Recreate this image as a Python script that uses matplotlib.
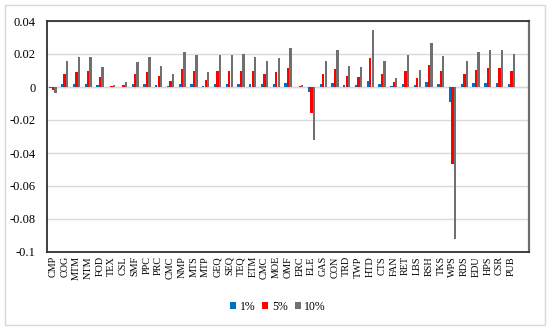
import matplotlib
matplotlib.use("Agg")
import matplotlib.pyplot as plt
from matplotlib.patches import Rectangle
import numpy as np

categories = ["CMP", "COG", "MTM", "NTM", "FOD", "TEX", "CSL", "SMF", "PPC", "PRC",
              "CMC", "NMP", "MTS", "MTP", "GEQ", "SEQ", "TEQ", "ETM", "CMC", "MOE",
              "OMF", "ERC", "ELE", "GAS", "CON", "TRD", "TWP", "HTD", "CTS", "FAN",
              "RET", "LBS", "RSH", "TKS", "WPS", "RDS", "EDU", "HPS", "CSR", "PUB"]

v1 = [-0.0004, 0.0016, 0.0020, 0.0020, 0.0014, 0.0002, 0.0003, 0.0016, 0.0020, 0.0014,
      0.0008, 0.0020, 0.0020, 0.0008, 0.0020, 0.0020, 0.0020, 0.0020, 0.0016, 0.0018,
      0.0026, 0.0002, -0.0033, 0.0016, 0.0024, 0.0014, 0.0014, 0.0036, 0.0016, 0.0008,
      0.0020, 0.0012, 0.0028, 0.0020, -0.0092, 0.0016, 0.0022, 0.0024, 0.0024, 0.0020]

v5 = [-0.0017, 0.0080, 0.0092, 0.0094, 0.0062, 0.0008, 0.0014, 0.0076, 0.0092, 0.0066,
      0.0038, 0.0108, 0.0098, 0.0044, 0.0098, 0.0098, 0.0100, 0.0094, 0.0080, 0.0090,
      0.0116, 0.0008, -0.0160, 0.0080, 0.0112, 0.0066, 0.0062, 0.0174, 0.0080, 0.0030,
      0.0098, 0.0054, 0.0134, 0.0094, -0.0465, 0.0080, 0.0106, 0.0114, 0.0114, 0.0100]

v10 = [-0.0036, 0.0158, 0.0182, 0.0184, 0.0120, 0.0014, 0.0028, 0.0152, 0.0182, 0.0130,
       0.0076, 0.0214, 0.0192, 0.0092, 0.0194, 0.0194, 0.0200, 0.0184, 0.0158, 0.0178,
       0.0234, 0.0012, -0.0324, 0.0160, 0.0222, 0.0130, 0.0124, 0.0346, 0.0158, 0.0056,
       0.0192, 0.0104, 0.0266, 0.0186, -0.0920, 0.0158, 0.0212, 0.0224, 0.0226, 0.0198]

series_labels = ["1%", "5%", "10%"]
yticks = [0.04, 0.02, 0, -0.02, -0.04, -0.06, -0.08, -0.1]
ytick_labels = ["0.04", "0.02", "0", "-0.02", "-0.04", "-0.06", "-0.08", "-0.1"]

colors = ["#0070C0", "#FF0000", "#707070"]

plt.rcParams['font.family'] = ['Liberation Serif', 'DejaVu Serif']

fig = plt.figure(figsize=(5.5, 3.28), dpi=100)
# outer light border
fig.patches.append(Rectangle((5/550, 3/328), 540/550, 320/328, transform=fig.transFigure,
                             fill=False, edgecolor="#D9D9D9", linewidth=1.0))

ax = fig.add_axes([47/550, 1 - 252/328, 482/550, 231/328])
x = np.arange(len(categories))
w = 0.2
for i, (vals, lab, c) in enumerate(zip([v1, v5, v10], series_labels, colors)):
    ax.bar(x + (i - 1) * 0.21, vals, width=w, color=c, label=lab, zorder=3)

ax.set_xlim(-0.5, len(categories) + 0.5)
ax.set_ylim(-0.1, 0.04)
ax.set_yticks(yticks)
ax.set_yticklabels(ytick_labels, fontsize=9)
ax.set_xticks(x)
ax.set_xticklabels(categories, rotation=90, fontsize=7.3)
ax.tick_params(axis='both', length=0, pad=3)
ax.tick_params(axis='y', pad=8)
ax.yaxis.grid(True, color="#D9D9D9", linewidth=1.0, zorder=0)
ax.axhline(0, color="#D9D9D9", linewidth=1.0, zorder=1)
for s in ax.spines.values():
    s.set_color("#303030")
    s.set_linewidth(1.3)
ax.spines['right'].set_color("#6E6E6E")
ax.spines['right'].set_linewidth(1.6)

fig.legend(loc="center", bbox_to_anchor=(278/550, 1 - 307/328), ncol=3, frameon=False,
           fontsize=8.5, handlelength=0.5, handleheight=0.5, handletextpad=0.3,
           columnspacing=0.6)

fig.savefig("out.png", dpi=100)
